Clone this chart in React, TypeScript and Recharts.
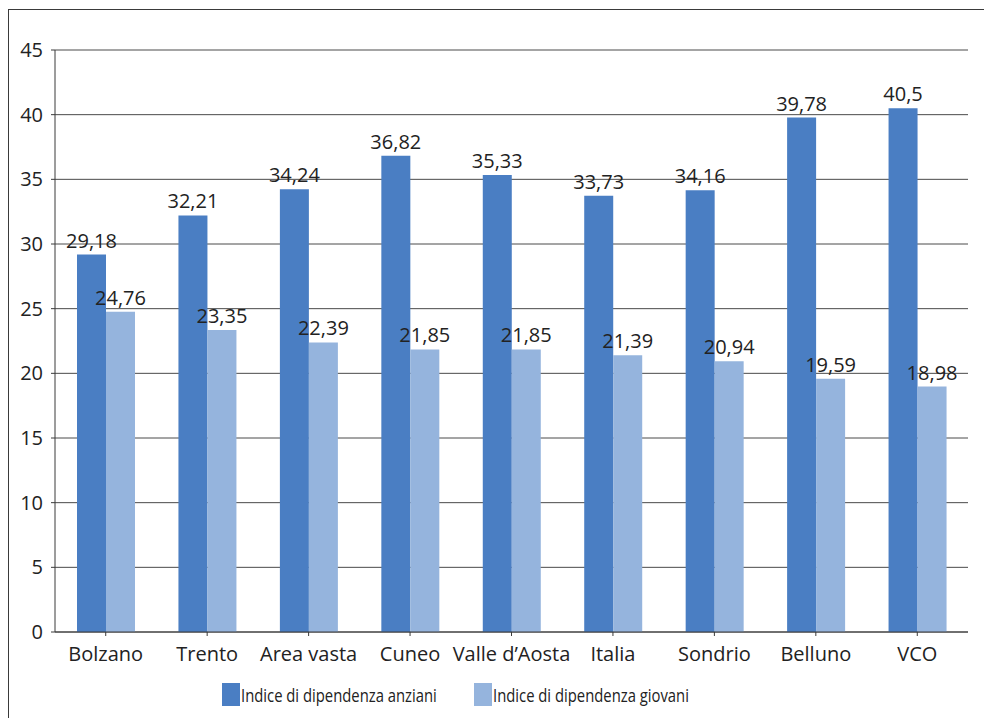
import { BarChart, Bar, XAxis, YAxis, CartesianGrid, LabelList } from "recharts"

const categories = [
  "Bolzano",
  "Trento",
  "Area vasta",
  "Cuneo",
  "Valle d’Aosta",
  "Italia",
  "Sondrio",
  "Belluno",
  "VCO",
]
const anziani = [29.18, 32.21, 34.24, 36.82, 35.33, 33.73, 34.16, 39.78, 40.5]
const giovani = [24.76, 23.35, 22.39, 21.85, 21.85, 21.39, 20.94, 19.59, 18.98]
const yTicks = [0, 5, 10, 15, 20, 25, 30, 35, 40, 45]

const DARK_BLUE = "#4a7ec3"
const LIGHT_BLUE = "#95b4dd"
const AXIS_COLOR = "#3a3a3a"
const GRID_COLOR = "#4a4a4a"
const TEXT_COLOR = "#222222"
const FONT = "'Open Sans', 'Noto Sans', sans-serif"

const data = categories.map((name, i) => ({
  name,
  anziani: anziani[i],
  giovani: giovani[i],
}))

const formatValue = (v: unknown) => String(v).replace(".", ",")

const tickStyle = { fontSize: 20, fill: TEXT_COLOR, fontFamily: FONT }

// condensed look of the legend font
const squeeze = {
  display: "inline-block",
  transform: "scaleX(0.78)",
  transformOrigin: "left center",
}

export default function App() {
  return (
    <div
      style={{
        position: "fixed",
        left: 0,
        top: 0,
        width: 984,
        height: 718,
        overflow: "hidden",
        background: "#fff",
        fontFamily: FONT,
      }}
    >
      {/* outer frame, only the top and left edges show */}
      <div
        style={{
          position: "absolute",
          top: 9,
          left: 8,
          width: 976,
          height: 709,
          borderTop: `1px solid ${AXIS_COLOR}`,
          borderLeft: `1px solid ${AXIS_COLOR}`,
          borderRight: "none",
          borderBottom: "none",
        }}
      />
      <div style={{ position: "absolute", left: 8, top: 8 }}>
        <BarChart
          width={962}
          height={710}
          data={data}
          margin={{ top: 42, right: 2, left: 0, bottom: 0 }}
          barGap={0}
        >
          <CartesianGrid vertical={false} stroke={GRID_COLOR} strokeWidth={1} />
          <XAxis
            dataKey="name"
            height={86}
            interval={0}
            stroke={AXIS_COLOR}
            tickSize={4}
            tickMargin={11}
            tick={tickStyle}
          />
          <YAxis
            width={47}
            domain={[0, 45]}
            ticks={yTicks}
            stroke={AXIS_COLOR}
            tickSize={4}
            tickMargin={8}
            tick={tickStyle}
          />
          <Bar dataKey="anziani" fill={DARK_BLUE} barSize={29} isAnimationActive={false}>
            <LabelList
              dataKey="anziani"
              position="top"
              offset={7}
              formatter={formatValue}
              style={tickStyle}
            />
          </Bar>
          <Bar dataKey="giovani" fill={LIGHT_BLUE} barSize={29} isAnimationActive={false}>
            <LabelList
              dataKey="giovani"
              position="top"
              offset={7}
              formatter={formatValue}
              style={tickStyle}
            />
          </Bar>
        </BarChart>
      </div>

      <div
        style={{
          position: "absolute",
          top: 683,
          left: 222,
          height: 23,
          display: "flex",
          alignItems: "center",
          fontSize: 19,
          color: TEXT_COLOR,
          whiteSpace: "nowrap",
        }}
      >
        <span style={{ display: "inline-block", width: 18, height: 23, background: DARK_BLUE, marginRight: 1 }} />
        <span style={{ display: "inline-block", width: 233 }}>
          <span style={squeeze}>Indice di dipendenza anziani</span>
        </span>
        <span style={{ display: "inline-block", width: 18, height: 23, background: LIGHT_BLUE, marginRight: 1 }} />
        <span style={squeeze}>Indice di dipendenza giovani</span>
      </div>
    </div>
  )
}
